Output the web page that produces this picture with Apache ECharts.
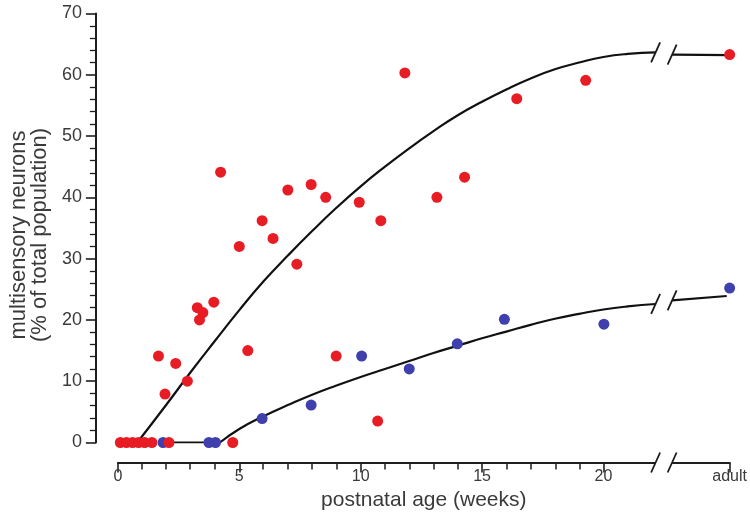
<!DOCTYPE html>
<html><head><meta charset="utf-8">
<script src="https://cdn.jsdelivr.net/npm/echarts@6/dist/echarts.min.js"></script>
<style>html,body{margin:0;padding:0;background:#fff}#c{width:750px;height:518px}</style>
</head><body><div id="c"></div>
<script>
// ---- data ----
const ADULT = 25.2;                       // position of the "adult" category on the weeks axis
const majorTicks = [0, 5, 10, 15, 20, ADULT];
const minorTicks = [1,2,3,4,6,7,8,9,11,12,13,14,16,17,18,19];
const xLabelText = {0:'0', 5:'5', 10:'10', 15:'15', 20:'20'};
const adultLabel = 'adult';

const redZeroX = [0.1, 0.35, 0.6, 0.85, 1.1, 1.4, 2.1, 4.73];
const redPoints = [
  [1.67,14.1],[2.38,12.9],[1.94,7.9],[2.86,10.0],[3.27,22.0],[3.36,20.0],[3.5,21.2],[3.95,22.9],
  [4.23,44.1],[5.0,32.0],[5.35,15.0],[5.94,36.2],[6.39,33.3],[7.0,41.2],[7.37,29.1],[7.96,42.1],
  [8.56,40.0],[8.99,14.1],[9.94,39.2],[10.7,3.5],[10.83,36.2],[11.82,60.3],[13.14,40.0],[14.28,43.3],
  [16.43,56.1],[19.27,59.1],[ADULT,63.3]
];
const blueZeroX = [1.86, 3.75, 4.02];
const bluePoints = [
  [5.94,3.9],[7.96,6.1],[10.04,14.1],[12.0,12.0],[13.98,16.1],[15.92,20.1],[20.02,19.3],[ADULT,25.2]
];

// fitted curves
const redFit = [[0.8,0],[2,6.2],[3,11.5],[4,16.6],[5,21.6],[6,26.3],[7,30.5],[8,34.5],[9,38.3],[10,41.8],
  [11,45.0],[12,48.0],[13,50.8],[14,53.4],[15,55.6],[16,57.6],[17,59.4],[18,60.9],[19,62.0],[20,62.9],[21,63.4],[22.15,63.65]];
const redFitAdult = [[22.83,63.3],[ADULT,63.2]];
const blueFlat = [[1.9,0],[4.2,0]];
const blueFit = [[4.2,0],[5,2.2],[6,4.3],[7,6.1],[8,7.8],[9,9.3],[10,10.7],[11,12.0],[12,13.3],
  [13,14.6],[14,15.8],[15,17.0],[16,18.1],[17,19.2],[18,20.2],[19,21.0],[20,21.7],[21,22.2],[22.15,22.6]];
const blueFitAdult = [[22.83,23.2],[25.08,23.9]];

// axis breaks: [xLeft, yLeft, xRight, yRight, onXAxis]
const breakMarks = [[22.15,63.65,22.83,63.3,0],[22.15,22.6,22.83,23.2,0],[22.15,0,22.83,0,1]];

const yTitle = 'multisensory neurons\n(% of total population)';
const xTitle = 'postnatal age (weeks)';

// ---- chart ----
const X_OFFSET = 20, Y_OFFSET = 22;
const FONT = '"Liberation Sans", Arial, Helvetica, sans-serif';
const AX = '#1e1e1e', TXT = '#3a3a3a';
const RED = '#e81c24', BLUE = '#3f3fae';
const GRID = {left:117, right:19, top:13.5, bottom:75.5};

const chart = echarts.init(document.getElementById('c'));
const lineStyle = {color:'#111', width:2.2};
chart.setOption({
  animation:false,
  backgroundColor:'#fff',
  grid:[Object.assign({}, GRID), Object.assign({}, GRID)],
  xAxis:[{
    gridIndex:0, type:'value', min:0, max:ADULT, position:'bottom', offset:X_OFFSET,
    splitLine:{show:false},
    axisLine:{show:true, onZero:false, lineStyle:{color:AX, width:2}},
    axisTick:{show:true, customValues:majorTicks, length:10, lineStyle:{color:AX, width:1.6}},
    axisLabel:{customValues:majorTicks, margin:6, fontSize:16, color:TXT, fontFamily:FONT,
      formatter:v => (Math.abs(v-ADULT)<1e-6 ? adultLabel : (xLabelText[v] ?? ''))},
    name:xTitle, nameLocation:'middle', nameGap:24,
    nameTextStyle:{fontSize:21, color:TXT, fontFamily:FONT}
  },{
    gridIndex:1, type:'value', min:0, max:ADULT, position:'bottom', offset:X_OFFSET,
    splitLine:{show:false}, axisLine:{show:false, onZero:false},
    axisTick:{show:true, customValues:minorTicks, length:7, lineStyle:{color:AX, width:1.5}},
    axisLabel:{show:false}
  }],
  yAxis:[{
    gridIndex:0, type:'value', min:0, max:70, interval:10, offset:Y_OFFSET,
    splitLine:{show:false},
    axisLine:{show:true, onZero:false, lineStyle:{color:AX, width:2}},
    axisTick:{show:true, length:10, lineStyle:{color:AX, width:1.6}},
    minorTick:{show:true, splitNumber:5, length:6, lineStyle:{color:AX, width:1.3}},
    axisLabel:{margin:14, fontSize:18, color:TXT, fontFamily:FONT},
    name:yTitle, nameLocation:'middle', nameGap:45, nameRotate:90,
    nameTextStyle:{fontSize:22, lineHeight:21, color:TXT, fontFamily:FONT, padding:[0,14,0,0]}
  },{
    gridIndex:1, type:'value', min:0, max:70, show:false
  }],
  series:[
    {type:'line', data:redFit, smooth:true, symbol:'none', lineStyle, z:2},
    {type:'line', data:redFitAdult, symbol:'none', lineStyle, z:2},
    {type:'line', data:blueFlat, symbol:'none', lineStyle, z:2},
    {type:'line', data:blueFit, smooth:true, symbol:'none', lineStyle, z:2},
    {type:'line', data:blueFitAdult, symbol:'none', lineStyle, z:2},
    {type:'scatter', data:blueZeroX.map(x=>[x,0]).concat(bluePoints), symbolSize:11,
      itemStyle:{color:BLUE, opacity:1}, z:3, clip:false},
    {type:'scatter', data:redZeroX.map(x=>[x,0]).concat(redPoints), symbolSize:11,
      itemStyle:{color:RED, opacity:1}, z:4, clip:false},
    {type:'custom', data:breakMarks, clip:false, z:5, silent:true,
      renderItem(params, api){
        const a = api.coord([api.value(0), api.value(1)]);
        const b = api.coord([api.value(2), api.value(3)]);
        const onAxis = api.value(4) === 1;
        if (onAxis){ a[1] += X_OFFSET; b[1] += X_OFFSET; }
        const kids = [];
        if (onAxis) kids.push({type:'rect', shape:{x:a[0], y:a[1]-3, width:b[0]-a[0], height:6}, style:{fill:'#fff'}});
        [a,b].forEach(p => kids.push({type:'line',
          shape:{x1:p[0]-4.5, y1:p[1]+10, x2:p[0]+4.5, y2:p[1]-10},
          style:{stroke:'#1a1a1a', lineWidth:1.8}}));
        return {type:'group', children:kids};
      }}
  ]
});
</script>
</body></html>
